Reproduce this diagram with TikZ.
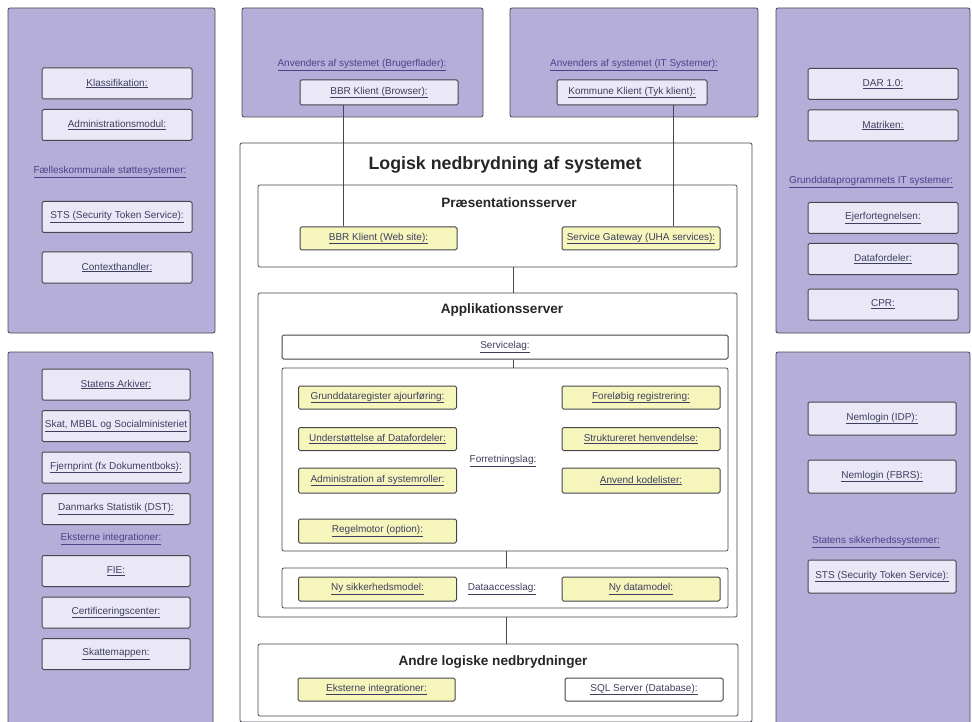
\documentclass[tikz,border=0pt]{standalone}
\usepackage{fontspec}
\setmainfont{Liberation Sans}
\usepackage{tikz}
\usetikzlibrary{positioning}
\definecolor{lavendel}{RGB}{180, 174, 216}
\definecolor{lyslav}{RGB}{234, 232, 246}
\definecolor{gul}{RGB}{246, 246, 188}
\definecolor{ramme}{RGB}{70, 70, 76}
\definecolor{linktxt}{RGB}{62, 62, 96}
\definecolor{lilla}{RGB}{78, 64, 140}
\newcommand{\lnk}[1]{\underline{#1}}
\tikzset{
    panel/.style={draw=ramme, fill=lavendel, rounded corners=2pt, line width=0.8pt},
    lag/.style={draw=ramme, fill=white, rounded corners=2pt, line width=0.7pt},
    item/.style={draw=ramme, fill=lyslav, rounded corners=1.5pt, line width=1pt, text=linktxt,
        font=\fontsize{10}{12}\selectfont, inner sep=0pt},
    yitem/.style={item, fill=gul, minimum width=158pt, minimum height=23pt},
    sbox/.style={item, minimum width=150pt, minimum height=31pt},
    plbl/.style={text=lilla, font=\fontsize{10}{12}\selectfont, inner sep=0pt},
    llbl/.style={text=linktxt, font=\fontsize{10}{12}\selectfont, inner sep=0pt},
    head/.style={font=\bfseries\fontsize{13.6}{16}\selectfont, text=black!85, inner sep=0pt},
    conn/.style={-, ramme, line width=0.6pt},
}
\begin{document}
\begin{tikzpicture}[x=1pt, y=-1pt]
        \useasboundingbox (0,0) rectangle (972,722);

        % sidepaneler
        \draw[panel] (8,8) rectangle (215,333);
        \draw[panel] (8,352) rectangle (213,740);
        \draw[panel] (776,8) rectangle (970,333);
        \draw[panel] (776,352) rectangle (970,740);
        \draw[panel] (242,8) rectangle (483,117);
        \draw[panel] (510,8) rectangle (758,117);

        \node[sbox] (kl1) at (117,83.5) {\lnk{Klassifikation:}};
        \node[sbox] (kl2) at (117,125) {\lnk{Administrationsmodul:}};
        \node[plbl] (kl3) at (110,172) {\lnk{Fælleskommunale støttesystemer:}};
        \node[sbox] (kl4) at (117,217) {\lnk{STS (Security Token Service):}};
        \node[sbox] (kl5) at (117,267.5) {\lnk{Contexthandler:}};

        \node[sbox, minimum width=148pt] (ek1) at (116,384.5) {\lnk{Statens Arkiver:}};
        \node[sbox, minimum width=148pt] (ek2) at (116,426) {\lnk{Skat, MBBL og Socialministeriet}};
        \node[sbox, minimum width=148pt] (ek3) at (116,467.5) {\lnk{Fjernprint (fx Dokumentboks):}};
        \node[sbox, minimum width=148pt] (ek4) at (116,509) {\lnk{Danmarks Statistik (DST):}};
        \node[plbl] (ek5) at (111,539) {\lnk{Eksterne integrationer:}};
        \node[sbox, minimum width=148pt] (ek6) at (116,571) {\lnk{FIE:}};
        \node[sbox, minimum width=148pt] (ek7) at (116,612.5) {\lnk{Certificeringscenter:}};
        \node[sbox, minimum width=148pt] (ek8) at (116,654) {\lnk{Skattemappen:}};

        \node[sbox] (gd1) at (883,84) {\lnk{DAR 1.0:}};
        \node[sbox] (gd2) at (883,125.5) {\lnk{Matriken:}};
        \node[plbl] (gd3) at (871,182) {\lnk{Grunddataprogrammets IT systemer:}};
        \node[sbox] (gd4) at (883,218) {\lnk{Ejerfortegnelsen:}};
        \node[sbox] (gd5) at (883,259) {\lnk{Datafordeler:}};
        \node[sbox] (gd6) at (883,304.5) {\lnk{CPR:}};

        \node[sbox, minimum width=148pt, minimum height=33pt] (sk1) at (882,418.5) {\lnk{Nemlogin (IDP):}};
        \node[sbox, minimum width=148pt, minimum height=33pt] (sk2) at (882,476.5) {\lnk{Nemlogin (FBRS):}};
        \node[plbl] (sk3) at (876,542) {\lnk{Statens sikkerhedssystemer:}};
        \node[sbox, minimum width=148pt, minimum height=33pt] (sk4) at (882,576.5) {\lnk{STS (Security Token Service):}};

        \node[plbl] (an1) at (362,65) {\lnk{Anvenders af systemet (Brugerflader):}};
        \node[item, minimum width=158pt, minimum height=25pt] (bbrB) at (379,92.5) {\lnk{BBR Klient (Browser):}};
        \node[plbl] (an2) at (634,65) {\lnk{Anvenders af systemet (IT Systemer):}};
        \node[item, minimum width=150pt, minimum height=25pt] (komK) at (632,92.5) {\lnk{Kommune Klient (Tyk klient):}};

        % logisk nedbrydning
        \draw[lag, line width=0.8pt] (240,143) rectangle (752,722);
        \node[head, font=\bfseries\fontsize{17.8}{20}\selectfont] (tit) at (505,165) {Logisk nedbrydning af systemet};

        \node[lag, minimum width=479pt, minimum height=82pt, inner sep=0pt] (praes) at (497.5,226) {};
        \node[head] (praesT) at (509,203) {Præsentationsserver};
        \node[yitem, minimum width=157pt] (bbrW) at (378.5,238.5) {\lnk{BBR Klient (Web site):}};
        \node[yitem] (gate) at (641,238.5) {\lnk{Service Gateway (UHA services):}};

        \node[lag, minimum width=479pt, minimum height=324pt, inner sep=0pt] (app) at (497.5,455) {};
        \node[head] (appT) at (502,310) {Applikationsserver};
        \node[item, fill=white, minimum width=446pt, minimum height=24pt] (serv) at (505,347) {\lnk{Servicelag:}};

        \node[lag, minimum width=446pt, minimum height=183pt, inner sep=0pt] (forr) at (505,459.5) {};
        \node[llbl] (forrT) at (503,461) {\lnk{Forretningslag:}};
        \node[yitem] (f1) at (377.5,397.5) {\lnk{Grunddataregister ajourføring:}};
        \node[yitem] (f2) at (641,397.5) {\lnk{Foreløbig registrering:}};
        \node[yitem] (f3) at (377.5,439) {\lnk{Understøttelse af Datafordeler:}};
        \node[yitem] (f4) at (641,439) {\lnk{Struktureret henvendelse:}};
        \node[yitem, minimum height=25pt] (f5) at (377.5,480.5) {\lnk{Administration af systemroller:}};
        \node[yitem, minimum height=25pt] (f6) at (641,480.5) {\lnk{Anvend kodelister:}};
        \node[yitem, minimum height=24pt] (f7) at (377.5,531) {\lnk{Regelmotor (option):}};

        \node[lag, minimum width=446pt, minimum height=40pt, inner sep=0pt] (dal) at (505,588) {};
        \node[yitem, minimum height=24pt] (d1) at (377.5,589) {\lnk{Ny sikkerhedsmodel:}};
        \node[llbl] (dalT) at (502,589) {\lnk{Dataaccesslag:}};
        \node[yitem, minimum height=24pt] (d2) at (641,589) {\lnk{Ny datamodel:}};

        \node[lag, minimum width=480pt, minimum height=72pt, inner sep=0pt] (andre) at (498,680) {};
        \node[head] (andreT) at (493,662) {Andre logiske nedbrydninger};
        \node[yitem, minimum width=157pt] (a1) at (376.5,689.5) {\lnk{Eksterne integrationer:}};
        \node[item, fill=white, minimum width=158pt, minimum height=23pt] (a2) at (644,689.5) {\lnk{SQL Server (Database):}};

        \coordinate (xb) at (343,0);
        \coordinate (xk) at (673,0);
        \coordinate (xm) at (513,0);
        \coordinate (xn) at (506,0);

        \draw[conn] (bbrB.south -| xb) -- (bbrW.north -| xb);
        \draw[conn] (komK.south -| xk) -- (gate.north -| xk);
        \draw[conn] (praes.south -| xm) -- (app.north -| xm);
        \draw[conn] (serv.south -| xm) -- (forr.north -| xm);
        \draw[conn] (forr.south -| xn) -- (dal.north -| xn);
        \draw[conn] (app.south -| xn) -- (andre.north -| xn);
    \end{tikzpicture}
\end{document}
